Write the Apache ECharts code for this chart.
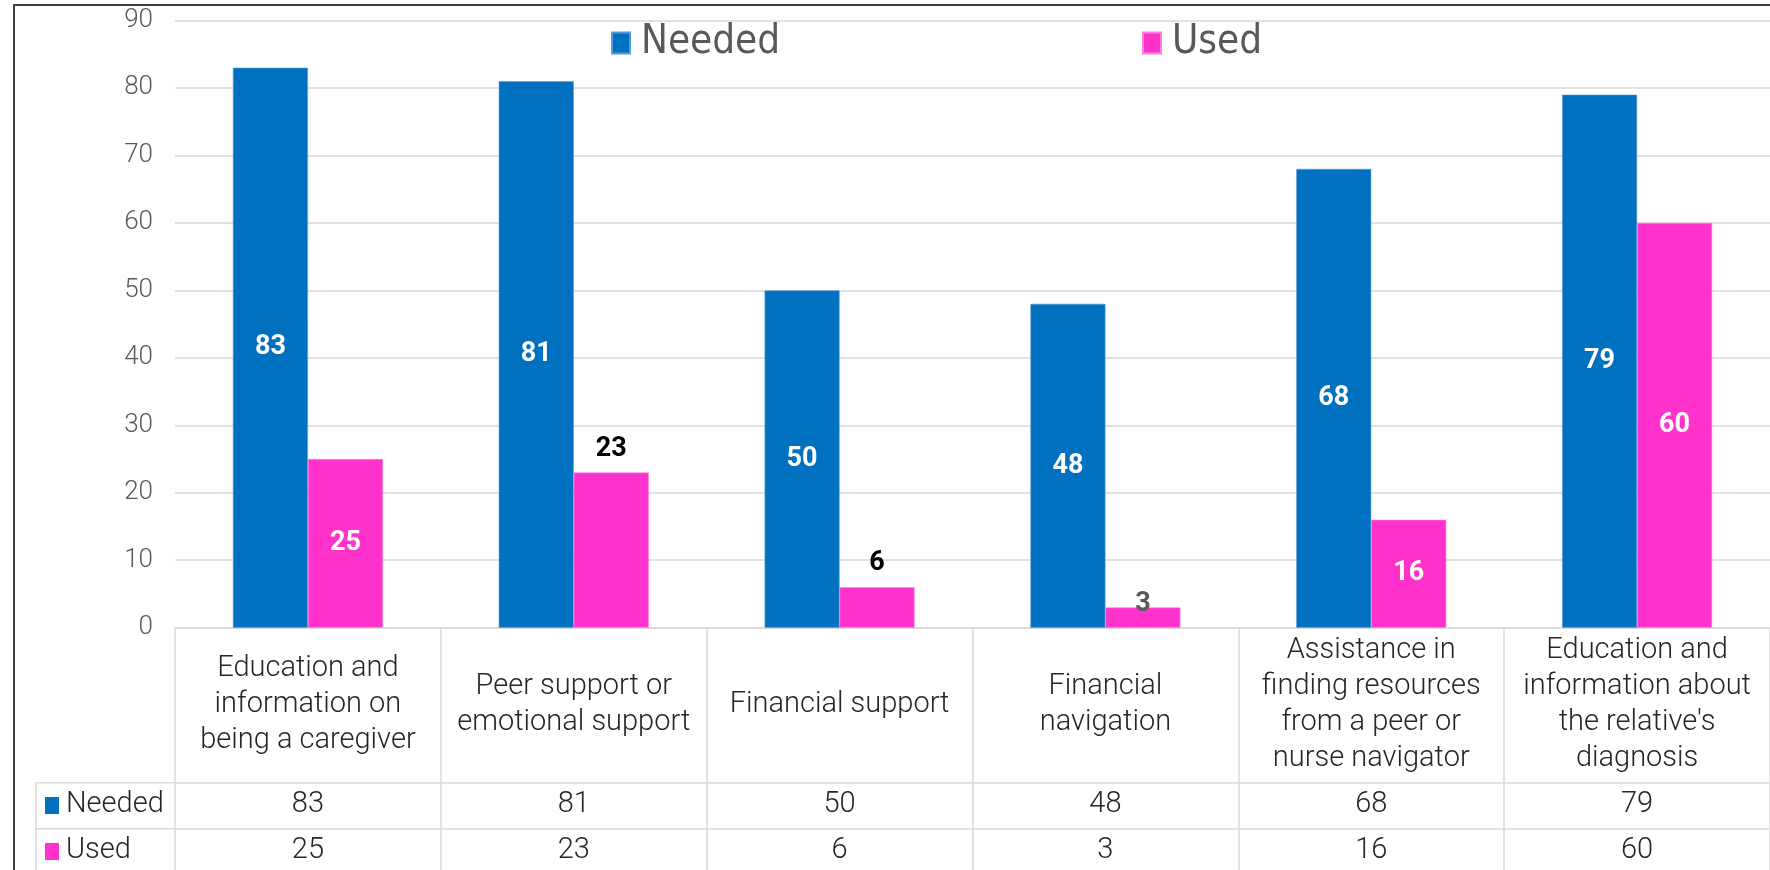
<!DOCTYPE html>
<html>
<head>
<meta charset="utf-8">
<title>Support needed vs used</title>
<script src="https://cdn.jsdelivr.net/npm/echarts@6/dist/echarts.min.js"></script>
<style>
  html, body { margin: 0; padding: 0; background: #fff; }
  #chart { width: 1770px; height: 870px; }
</style>
</head>
<body>
<div id="chart"></div>
<script>
// Support types (header cells of the data table, wrapped as displayed)
const categories = [
  'Education and\ninformation on\nbeing a caregiver',
  'Peer support or\nemotional support',
  'Financial support',
  'Financial\nnavigation',
  'Assistance in\nfinding resources\nfrom a peer or\nnurse navigator',
  "Education and\ninformation about\nthe relative's\ndiagnosis"
];
const seriesNames = ['Needed', 'Used'];
const neededValues = [83, 81, 50, 48, 68, 79];
const usedValues = [25, 23, 6, 3, 16, 60];
const yTicks = { min: 0, max: 90, interval: 10 };

// Styling
const BLUE = '#0070C0';
const PINK = '#FF33CC';
const GRID_LINE = '#D9D9D9';
const TEXT_DARK = '#262626';
const TEXT_GRAY = '#595959';
const TABLE_FONT = "Roboto, 'Open Sans', sans-serif";
const LABEL_FONT = "Roboto, 'DejaVu Sans', sans-serif";
const LEGEND_FONT = "'Liberation Sans Narrow', 'DejaVu Sans Condensed', Roboto, sans-serif";

// Where each "Used" value label sits
const usedLabelMode = ['inside', 'above', 'above', 'onEdge', 'inside', 'inside'];

const GRID_LEFT = 175, GRID_TOP = 20.5, GRID_H = 607.2, GRID_W = 1598;
const HEADER_H = 155, ROW_H = 46;
const TABLE_FS = 29;

function usedLabel(mode) {
  const base = { show: true, fontFamily: LABEL_FONT, fontWeight: 'bold', fontSize: 27 };
  if (mode === 'inside') return Object.assign(base, { position: 'inside', color: '#fff' });
  if (mode === 'above') return Object.assign(base, { position: 'top', distance: 10, color: '#000' });
  return Object.assign(base, { position: 'top', distance: -10, color: TEXT_GRAY });
}

const chart = echarts.init(document.getElementById('chart'));

const tableRowAxis = (values, offset) => ({
  type: 'category',
  data: categories,
  position: 'bottom',
  offset: offset,
  axisLine: { show: true, lineStyle: { color: GRID_LINE, width: 1.5 } },
  axisTick: { show: false },
  axisLabel: {
    interval: 0,
    margin: 22,
    verticalAlign: 'middle',
    color: TEXT_DARK,
    fontFamily: TABLE_FONT,
    fontWeight: 300,
    fontSize: TABLE_FS,
    formatter: (v, i) => String(values[i])
  }
});

const legendBox = (name, left) => ({
  data: [name], left: left, top: 18,
  icon: 'rect', itemWidth: 18, itemHeight: 21,
  textStyle: { color: TEXT_GRAY, fontFamily: LEGEND_FONT, fontSize: 40, padding: [0, 0, 0, 6] }
});

const option = {
  animation: false,
  backgroundColor: '#fff',
  legend: [legendBox(seriesNames[0], 606), legendBox(seriesNames[1], 1137)],
  grid: { left: GRID_LEFT, top: GRID_TOP, width: GRID_W, height: GRID_H, containLabel: false },
  xAxis: [
    {
      type: 'category',
      data: categories,
      position: 'bottom',
      axisLine: { show: true, lineStyle: { color: GRID_LINE, width: 1.5 } },
      axisTick: { show: true, interval: 0, length: HEADER_H + ROW_H * 2 + 10, lineStyle: { color: GRID_LINE, width: 1.5 } },
      axisLabel: {
        interval: 0,
        margin: HEADER_H / 2,
        verticalAlign: 'middle',
        align: 'center',
        color: TEXT_DARK,
        fontFamily: TABLE_FONT,
        fontWeight: 300,
        fontSize: TABLE_FS,
        lineHeight: 36
      }
    },
    tableRowAxis(neededValues, HEADER_H),
    tableRowAxis(usedValues, HEADER_H + ROW_H)
  ],
  yAxis: {
    type: 'value',
    min: yTicks.min, max: yTicks.max, interval: yTicks.interval,
    axisLine: { show: false },
    axisTick: { show: false },
    axisLabel: { margin: 22, color: TEXT_GRAY, fontFamily: TABLE_FONT, fontWeight: 300, fontSize: 26 },
    splitLine: { lineStyle: { color: GRID_LINE, width: 1.5 } }
  },
  series: [
    {
      name: seriesNames[0],
      type: 'bar',
      barWidth: 75,
      barGap: '0%',
      itemStyle: { color: BLUE, borderColor: '#5B9BD5', borderWidth: 0.6 },
      label: { show: true, position: 'inside', color: '#fff', fontFamily: LABEL_FONT, fontWeight: 'bold', fontSize: 27 },
      data: neededValues
    },
    {
      name: seriesNames[1],
      type: 'bar',
      barWidth: 75,
      barGap: '0%',
      itemStyle: { color: PINK, borderColor: '#FF7FDF', borderWidth: 0.6 },
      data: usedValues.map((v, i) => ({ value: v, label: usedLabel(usedLabelMode[i]) }))
    }
  ],
  graphic: [
    // outer chart frame
    { type: 'rect', z: 100, silent: true,
      shape: { x: 14, y: 5, width: 1800, height: 900 },
      style: { fill: 'none', stroke: '#404040', lineWidth: 2 } },
    // left column of the data table
    { type: 'line', silent: true, shape: { x1: 36, y1: GRID_TOP + GRID_H + HEADER_H, x2: GRID_LEFT, y2: GRID_TOP + GRID_H + HEADER_H },
      style: { stroke: GRID_LINE, lineWidth: 1.5 } },
    { type: 'line', silent: true, shape: { x1: 36, y1: GRID_TOP + GRID_H + HEADER_H + ROW_H, x2: GRID_LEFT, y2: GRID_TOP + GRID_H + HEADER_H + ROW_H },
      style: { stroke: GRID_LINE, lineWidth: 1.5 } },
    { type: 'line', silent: true, shape: { x1: 36, y1: GRID_TOP + GRID_H + HEADER_H, x2: 36, y2: 880 },
      style: { stroke: GRID_LINE, lineWidth: 1.5 } },
    // row keys and names
    { type: 'rect', silent: true, shape: { x: 45, y: 797, width: 14, height: 17 }, style: { fill: BLUE } },
    { type: 'text', silent: true, x: 66, y: 805,
      style: { text: seriesNames[0], fill: TEXT_DARK, font: '300 ' + TABLE_FS + 'px ' + TABLE_FONT, verticalAlign: 'middle' } },
    { type: 'rect', silent: true, shape: { x: 45, y: 843, width: 14, height: 17 }, style: { fill: PINK } },
    { type: 'text', silent: true, x: 66, y: 851,
      style: { text: seriesNames[1], fill: TEXT_DARK, font: '300 ' + TABLE_FS + 'px ' + TABLE_FONT, verticalAlign: 'middle' } }
  ]
};

chart.setOption(option);
</script>
</body>
</html>
